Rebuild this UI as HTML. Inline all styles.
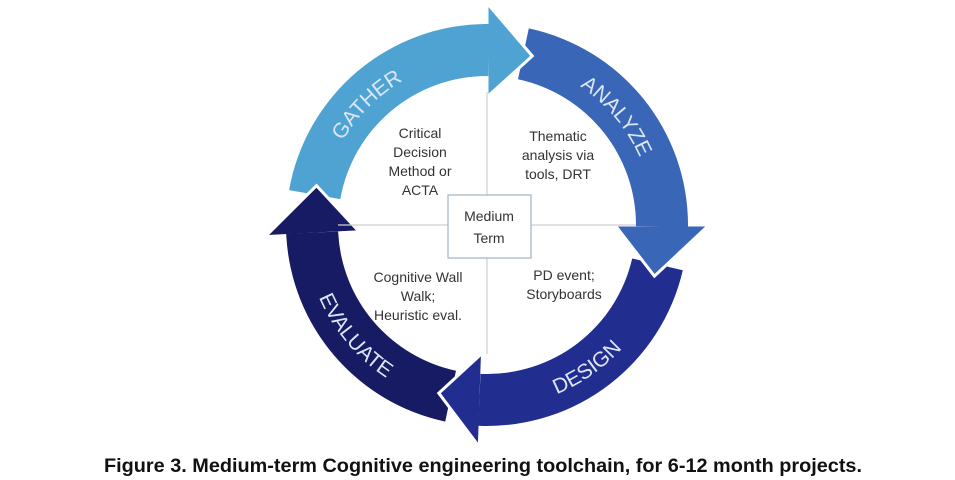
<!DOCTYPE html>
<html><head><meta charset="utf-8"><style>
html,body{margin:0;padding:0;background:#fff;width:955px;height:480px;overflow:hidden}
svg{display:block}
.l{font-family:"Liberation Sans",sans-serif;font-size:21px;fill:#dde6f6}
.t{font-family:"Liberation Sans",sans-serif;font-size:14px;fill:#333;text-anchor:middle}
.cap{font-family:"Liberation Sans",sans-serif;font-size:19px;font-weight:bold;fill:#111}
</style></head><body>
<svg id="s" width="955" height="480" viewBox="0 0 955 480">
<g id="arrows"></g>
<line x1="487" y1="92" x2="487" y2="354" stroke="#cfcfcf" stroke-width="1.2"/>
<line x1="338" y1="225" x2="636" y2="225" stroke="#cfcfcf" stroke-width="1.2"/>
<rect x="448" y="195" width="83" height="63" fill="#fff" stroke="#9fb4bf" stroke-width="1.2"/>
<text class="t" x="489" y="221">Medium</text>
<text class="t" x="489" y="243">Term</text>
<text class="t" x="420" y="138">Critical</text>
<text class="t" x="420" y="157">Decision</text>
<text class="t" x="420" y="176">Method or</text>
<text class="t" x="420" y="195">ACTA</text>
<text class="t" x="558" y="141">Thematic</text>
<text class="t" x="558" y="160">analysis via</text>
<text class="t" x="558" y="179">tools, DRT</text>
<text class="t" x="418" y="282">Cognitive Wall</text>
<text class="t" x="418" y="301">Walk;</text>
<text class="t" x="418" y="320">Heuristic eval.</text>
<text class="t" x="564" y="280">PD event;</text>
<text class="t" x="564" y="299">Storyboards</text>
<defs>
<path id="pg"/><path id="pa"/><path id="pd"/><path id="pe"/>
</defs>
<text class="l"><textPath href="#pg" startOffset="50%" text-anchor="middle">GATHER</textPath></text>
<text class="l"><textPath href="#pa" startOffset="50%" text-anchor="middle">ANALYZE</textPath></text>
<text class="l"><textPath href="#pd" startOffset="50%" text-anchor="middle">DESIGN</textPath></text>
<text class="l"><textPath href="#pe" startOffset="50%" text-anchor="middle">EVALUATE</textPath></text>
<text class="cap" x="104" y="472" textLength="758" lengthAdjust="spacingAndGlyphs">Figure 3. Medium-term Cognitive engineering toolchain, for 6-12 month projects.</text>
</svg>
<script>
var cx=487,cy=225,R=201,r=149,m=175,NS="http://www.w3.org/2000/svg";
function P(rad,a){a=a*Math.PI/180;return [(cx+rad*Math.cos(a)).toFixed(1),(cy+rad*Math.sin(a)).toFixed(1)];}
function body(a0,a1){var A=P(R,a0),B=P(R,a1),C=P(r,a1),D=P(r,a0);
 return "M"+A+" A"+R+","+R+" 0 0 1 "+B+" L"+C+" A"+r+","+r+" 0 0 0 "+D+"Z";}
function head(ab,at){var A=P(R+21,ab),T=P(m,at),B=P(r-21,ab);return "M"+A+" L"+T+" L"+B+"Z";}
var arr=[[190,270,285,"#4ea3d3"],[282,0,17,"#3a66b8"],[13,92,106,"#212d8f"],[102,177,193,"#171b63"]];
var g=document.getElementById("arrows");
arr.forEach(function(a){var p=document.createElementNS(NS,"path");p.setAttribute("d",body(a[0],a[1]+(a[1]<a[0]?360:0)));p.setAttribute("fill",a[3]);g.appendChild(p);});
arr.forEach(function(a){var p=document.createElementNS(NS,"path");p.setAttribute("d",head(a[1],a[2]));p.setAttribute("fill",a[3]);p.setAttribute("stroke","#fff");p.setAttribute("stroke-width","3");g.appendChild(p);
 var q=document.createElementNS(NS,"path");q.setAttribute("d",body(a[1]-1,a[1]+0.5));q.setAttribute("fill",a[3]);g.appendChild(q);});
function arcCW(rad,a0,a1){var A=P(rad,a0),B=P(rad,a1);return "M"+A+" A"+rad+","+rad+" 0 0 1 "+B;}
function arcCCW(rad,a0,a1){var A=P(rad,a0),B=P(rad,a1);return "M"+A+" A"+rad+","+rad+" 0 0 0 "+B;}
document.getElementById("pg").setAttribute("d",arcCW(167,195,255));
document.getElementById("pa").setAttribute("d",arcCW(167,290,350));
document.getElementById("pd").setAttribute("d",arcCCW(183,85,25));
document.getElementById("pe").setAttribute("d",arcCCW(183,175,105));
</script>
</body></html>
